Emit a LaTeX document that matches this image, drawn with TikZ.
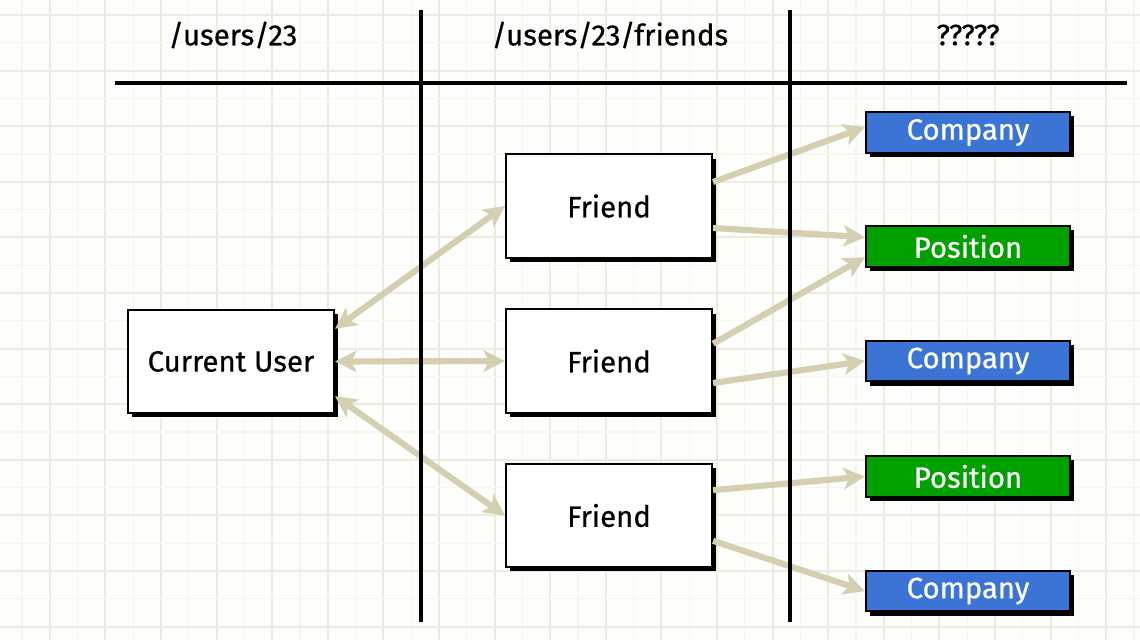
\documentclass[tikz,border=0pt]{standalone}
\usepackage{fontspec}
\setmainfont{Fira Sans}
\newfontfamily\sketchfont{Fira Sans}[FakeBold=0.6]
\usepackage{tikz}
\usetikzlibrary{arrows.meta,positioning,calc,shadows}

\definecolor{gridmajor}{RGB}{236,236,222}
\definecolor{gridminor}{RGB}{246,246,238}
\definecolor{linkcol}{RGB}{211,207,176}
\definecolor{compblue}{RGB}{60,116,214}
\definecolor{posgreen}{RGB}{0,160,0}

\begin{document}
\begin{tikzpicture}[x=0.75pt,y=-0.75pt,
  entity/.style={draw=black,line width=1.6pt,fill=white,minimum width=154.5pt,minimum height=77.5pt,
    font=\sketchfont\fontsize{22}{26}\selectfont,
    drop shadow={shadow xshift=3.2pt,shadow yshift=-3.2pt,fill=black,opacity=1}},
  tag/.style={draw=black,line width=1.6pt,minimum width=153pt,minimum height=30.5pt,text=white,
    font=\sketchfont\fontsize{22}{26}\selectfont,
    drop shadow={shadow xshift=3.2pt,shadow yshift=-3.2pt,fill=black,opacity=1}},
  company/.style={tag,fill=compblue},
  position/.style={tag,fill=posgreen},
  link/.style={draw=linkcol,line width=4.6pt,{Stealth[length=16pt,width=16pt,inset=4pt]}-{Stealth[length=16pt,width=16pt,inset=4pt]}},
  onelink/.style={draw=linkcol,line width=4.6pt,-{Stealth[length=16pt,width=16pt,inset=4pt]}},
  divider/.style={line width=2.3pt,black},
  header/.style={font=\sketchfont\fontsize{22}{26}\selectfont}]
\useasboundingbox[fill={rgb,255:red,253;green,253;blue,251}] (0,0) rectangle (1140,640);
% grid paper
\foreach \i in {0,2,...,40} {\draw[gridminor,line width=1pt] ({22+27.8*\i},0) -- ({22+27.8*\i},640);}
\foreach \i in {1,3,...,41} {\draw[gridmajor,line width=1.5pt] ({22+27.8*\i},0) -- ({22+27.8*\i},640);}
\foreach \j in {1,3,...,23} {\draw[gridminor,line width=1pt] (0,{15+27.8*\j}) -- (1140,{15+27.8*\j});}
\foreach \j in {0,2,...,22} {\draw[gridmajor,line width=1.5pt] (0,{15+27.8*\j}) -- (1140,{15+27.8*\j});}

% column headings
\node[header] (h1) at (233,35) {/users/23};
\node[header] (h2) at (610,35) {/users/23/friends};
\node[header] (h3) at (968,35) {?????};

% boxes
\node[entity] (cu) at (231,361.5) {Current User};
\node[entity] (f1) at (609,206) {Friend};
\node[entity] (f2) at (609,361) {Friend};
\node[entity] (f3) at (609,515.5) {Friend};
\node[company] (c1) at (968,132.5) {Company};
\node[position] (p1) at (968,246.5) {Position};
\node[company] (c2) at (968,361) {Company};
\node[position] (p2) at (968,476.5) {Position};
\node[company] (c3) at (968,591) {Company};

% links
\draw[link] ([yshift=-15pt]cu.north east) -- (f1.west);
\draw[link] (cu.east) -- (f2.west);
\draw[link] ([yshift=-26pt]cu.east) -- (f3.west);
\draw[onelink] ([yshift=18pt]f1.east) -- ([yshift=4pt]c1.west);
\draw[onelink] ([yshift=-16.5pt]f1.east) -- ([yshift=7pt]p1.west);
\draw[onelink] ([yshift=13pt]f2.east) -- ([yshift=-8pt]p1.west);
\draw[onelink] ([yshift=-16.5pt]f2.east) -- (c2.west);
\draw[onelink] ([yshift=19pt]f3.east) -- (p2.west);
\draw[onelink] ([yshift=-19pt]f3.east) -- (c3.west);

% column rules
\draw[divider] (115,83) -- (1127,83);
\draw[divider] (421,10) -- (421,622);
\draw[divider] (790,10) -- (790,622);
\end{tikzpicture}
\end{document}
